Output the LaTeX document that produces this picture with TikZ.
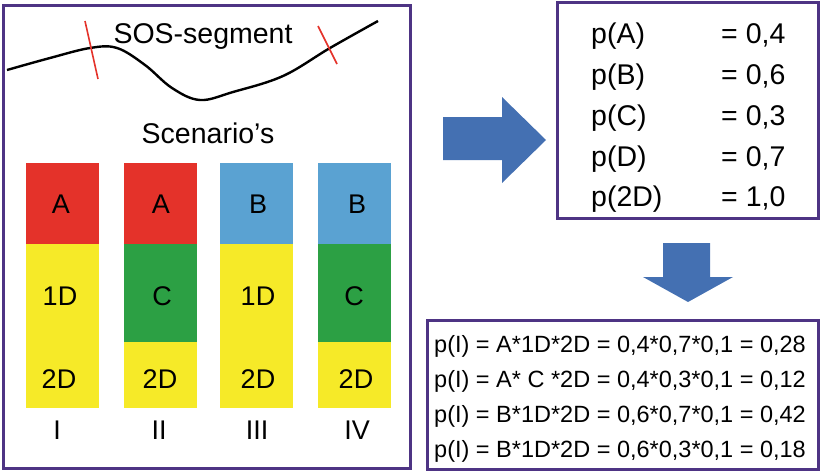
\documentclass[tikz,border=0pt]{standalone}
\usepackage{fontspec}
\setmainfont{Liberation Sans}
\definecolor{frame}{RGB}{78,52,132}
\definecolor{cred}{RGB}{228,50,42}
\definecolor{cyel}{RGB}{246,234,40}
\definecolor{cgrn}{RGB}{44,160,68}
\definecolor{cblu}{RGB}{90,162,210}
\definecolor{carr}{RGB}{68,112,178}
\tikzset{
  panel/.style={draw=frame,line width=3pt},
  big/.style={font=\fontsize{28.5}{32}\selectfont,inner sep=0pt,anchor=base},
  lab/.style={font=\fontsize{27}{30}\selectfont,inner sep=0pt,anchor=base},
  mid/.style={font=\fontsize{28.5}{32}\selectfont,inner sep=0pt,anchor=base west},
  small/.style={font=\fontsize{23.5}{26}\selectfont,inner sep=0pt,anchor=base west},
  tick/.style={draw=cred,line width=1.6pt},
  road/.style={draw=black,line width=2.4pt},
  blockarrow/.style={fill=carr,draw=none}
}
\begin{document}
\begin{tikzpicture}[x=1pt,y=-1pt]
\useasboundingbox (0,0) rectangle (821,471);
% panels
\draw[panel] (3,5) rectangle (410,468);
\draw[panel] (557,2) rectangle (818,218);
\draw[panel] (427,320) rectangle (818,469);
% road
\draw[road] plot[smooth,tension=0.6] coordinates {(7,70) (50,58) (90,48) (117,48) (145,65) (172,88) (200,100) (233,92) (283,76) (330,48) (378,21)};
\draw[tick] (85,21) -- (98,79);
\draw[tick] (318,26) -- (337,64);
\node[big] (sos) at (203,43) {SOS-segment};
\node[big] (scen) at (208,143) {Scenario’s};
% columns
\fill[cred] (26,163) rectangle (99,244);
\fill[cyel] (26,244) rectangle (99,408);
\fill[cred] (124,163) rectangle (197,244);
\fill[cgrn] (124,244) rectangle (197,342);
\fill[cyel] (124,342) rectangle (197,408);
\fill[cblu] (220,163) rectangle (293,244);
\fill[cyel] (220,244) rectangle (293,408);
\fill[cblu] (318,163) rectangle (391,244);
\fill[cgrn] (318,244) rectangle (391,342);
\fill[cyel] (318,342) rectangle (391,408);
\node[lab] (a1) at (61,213) {A};
\node[lab] (d1) at (60,305) {1D};
\node[lab] (e1) at (59,388) {2D};
\node[lab] (a2) at (161,213) {A};
\node[lab] (c2) at (162,305) {C};
\node[lab] (e2) at (160,388) {2D};
\node[lab] (b3) at (258,213) {B};
\node[lab] (d3) at (258,305) {1D};
\node[lab] (e3) at (258,388) {2D};
\node[lab] (b4) at (357,213) {B};
\node[lab] (c4) at (354,305) {C};
\node[lab] (e4) at (356,388) {2D};
\node[lab] (r1) at (57,439) {I};
\node[lab] (r2) at (159,439) {II};
\node[lab] (r3) at (257,439) {III};
\node[lab] (r4) at (357,439) {IV};
% arrows
\fill[blockarrow] (443,117) -- (502,117) -- (502,97) -- (546,140) -- (502,183) -- (502,160) -- (443,160) -- cycle;
\fill[blockarrow] (663,243) -- (710,243) -- (710,277) -- (733,277) -- (688,302) -- (643,277) -- (663,277) -- cycle;
% probabilities
\node[mid] (pA) at (591,43) {p(A)};
\node[mid] (pB) at (591,84) {p(B)};
\node[mid] (pC) at (591,125) {p(C)};
\node[mid] (pD) at (591,166) {p(D)};
\node[mid] (p2) at (591,206) {p(2D)};
\node[mid] (vA) at (721,43) {= 0,4};
\node[mid] (vB) at (721,84) {= 0,6};
\node[mid] (vC) at (721,125) {= 0,3};
\node[mid] (vD) at (721,166) {= 0,7};
\node[mid] (v2) at (721,206) {= 1,0};
% results
\node[small] (l1) at (434,352) {p(I) = A*1D*2D = 0,4*0,7*0,1 = 0,28};
\node[small] (l2) at (434,387) {p(I) = A* C *2D = 0,4*0,3*0,1 = 0,12};
\node[small] (l3) at (434,422) {p(I) = B*1D*2D = 0,6*0,7*0,1 = 0,42};
\node[small] (l4) at (434,457) {p(I) = B*1D*2D = 0,6*0,3*0,1 = 0,18};
\end{tikzpicture}
\end{document}
